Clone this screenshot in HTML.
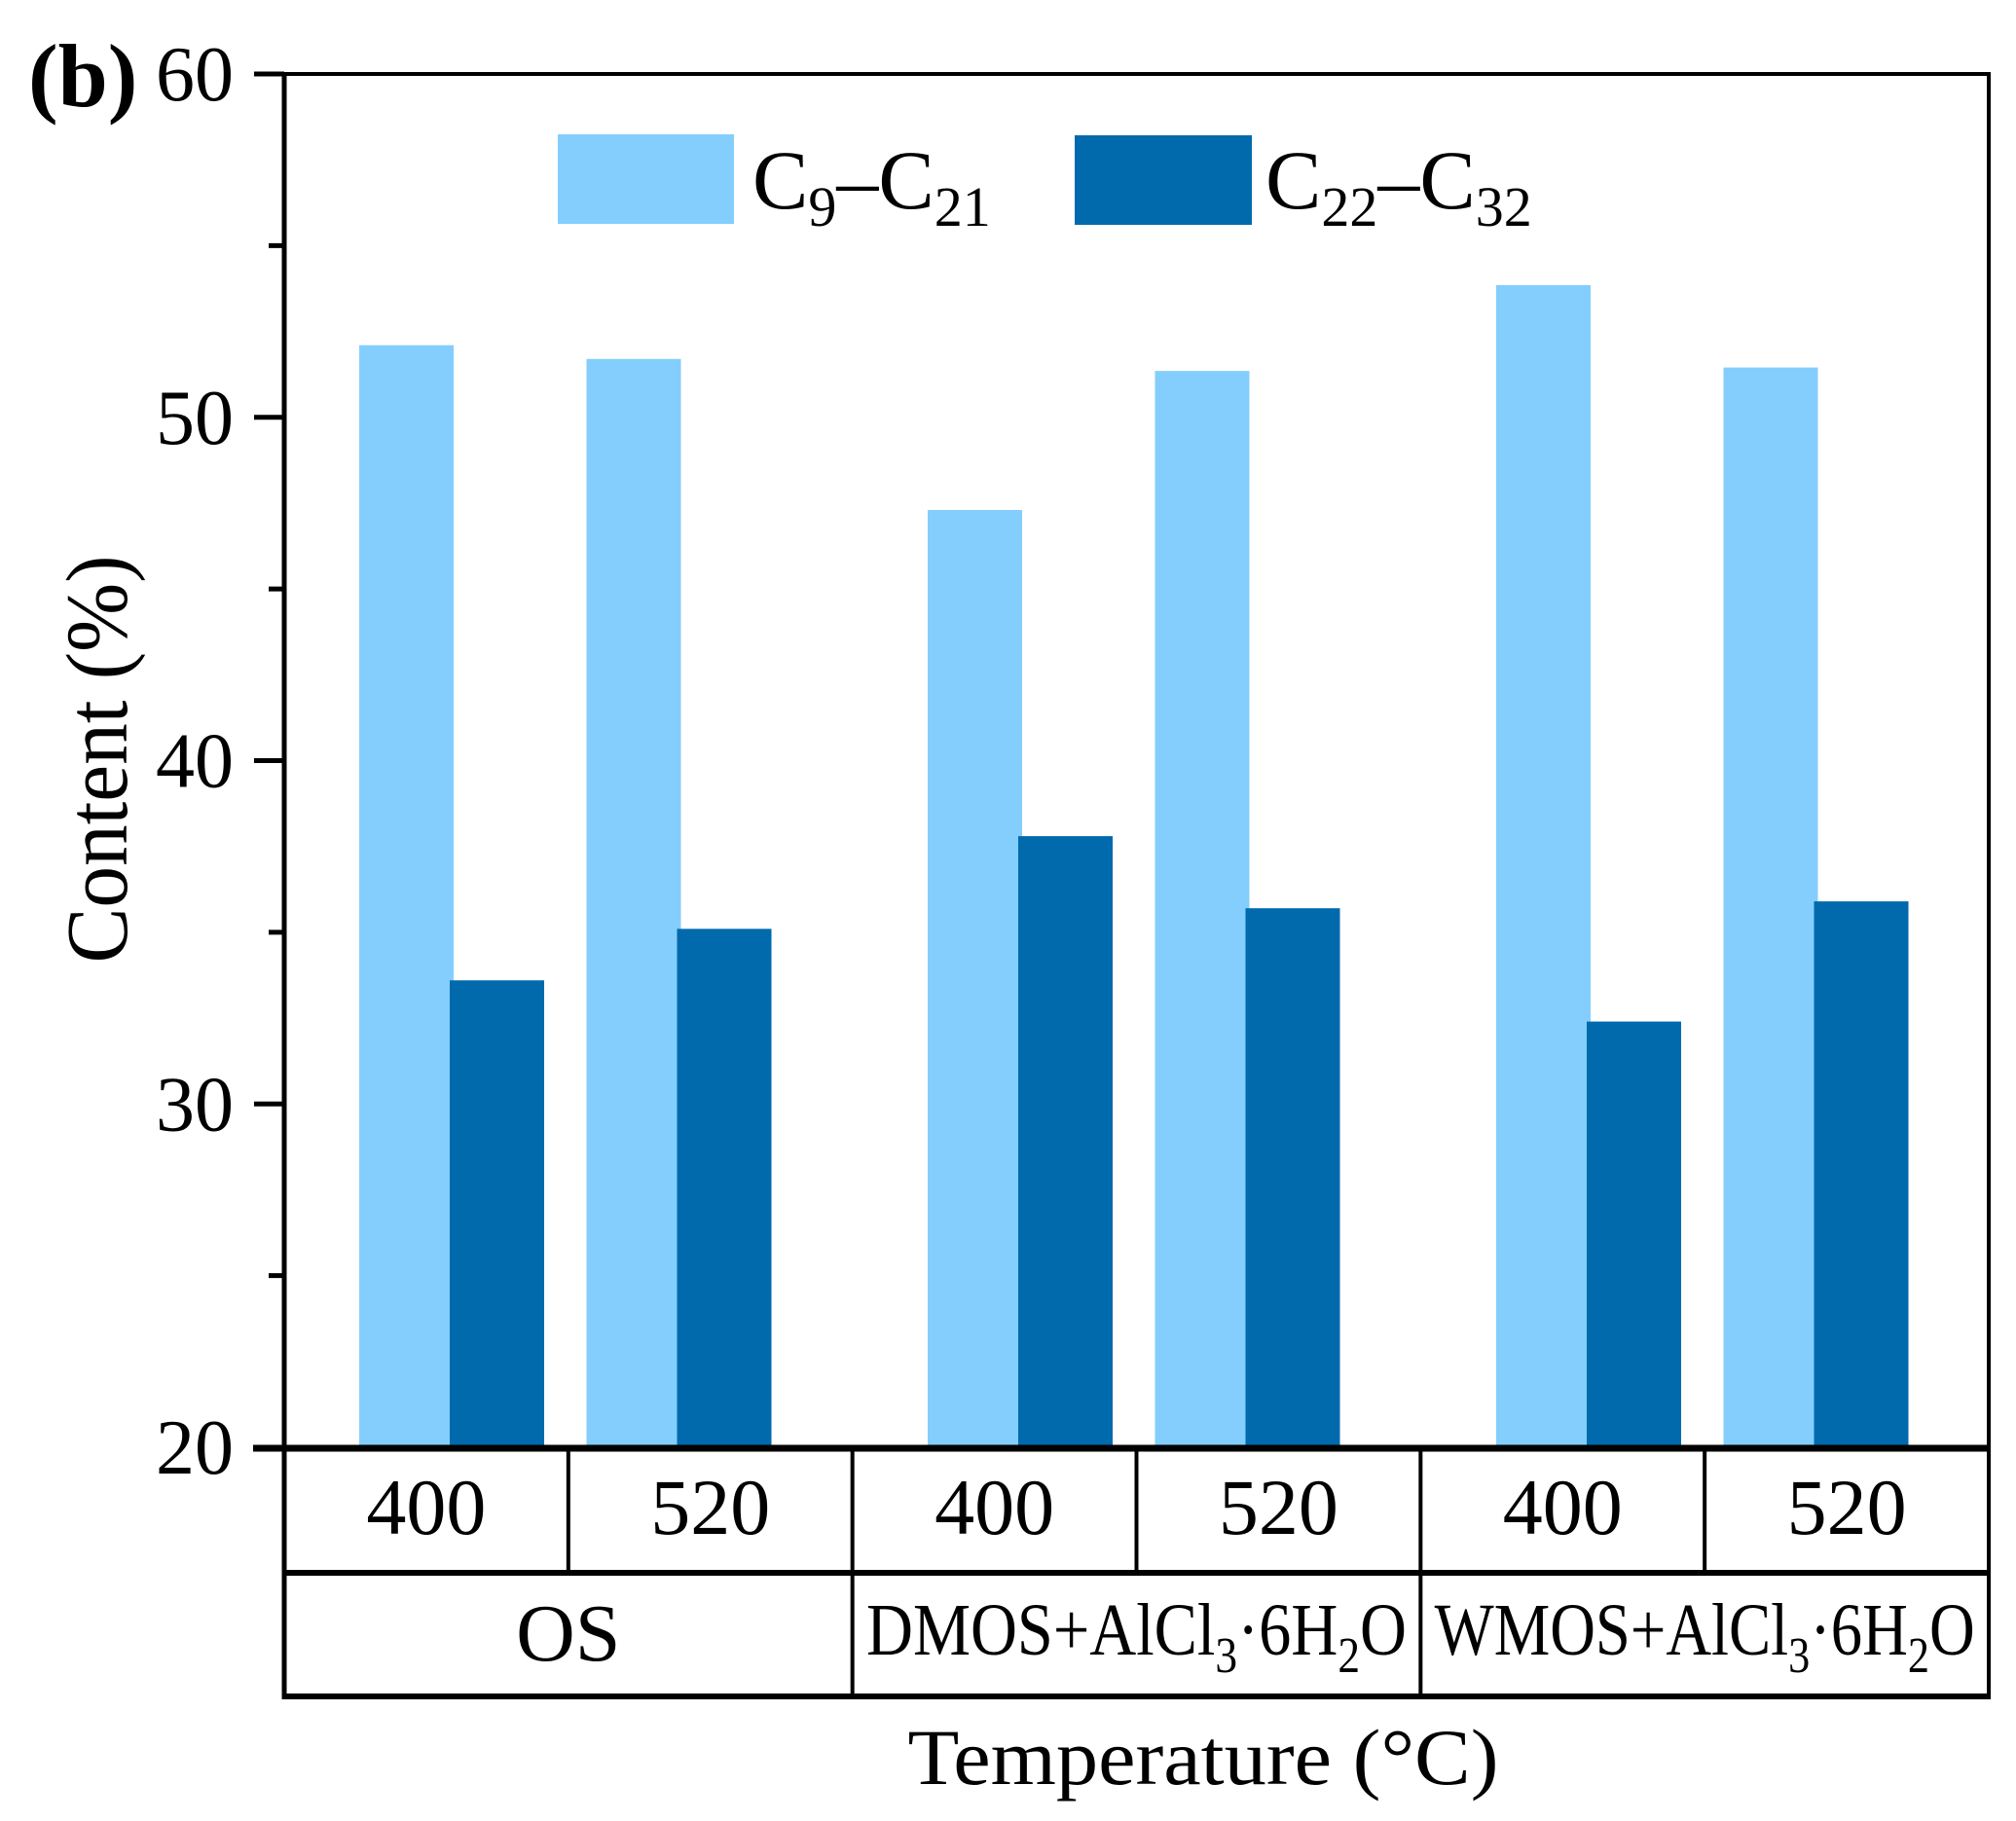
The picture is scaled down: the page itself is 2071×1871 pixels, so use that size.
<!DOCTYPE html>
<html><head><meta charset="utf-8"><style>
html,body{margin:0;padding:0;background:#fff;}
svg{display:block;font-family:"Liberation Serif",serif;}
</style></head><body>
<svg id="chart" width="2071" height="1871" viewBox="0 0 2071 1871">
<text x="29" y="109" font-size="92" font-weight="bold">(b)</text>
<g id="bars"></g>
<g id="yaxis"></g>
<g>
<rect x="573" y="138" width="181" height="92" fill="#83CEFD"/>
<text x="773" y="214" font-size="86">C<tspan font-size="58" dy="18">9</tspan><tspan dy="-18">–C</tspan><tspan font-size="58" dy="18">21</tspan></text>
<rect x="1104" y="139" width="182" height="92" fill="#006AAD"/>
<text x="1300" y="214" font-size="86">C<tspan font-size="58" dy="18">22</tspan><tspan dy="-18">–C</tspan><tspan font-size="58" dy="18">32</tspan></text>
</g>
<g id="frame">
<line x1="290" y1="76" x2="2045" y2="76" stroke="#000" stroke-width="4"/>
<line x1="292" y1="74" x2="292" y2="1746" stroke="#000" stroke-width="5"/>
<line x1="2043" y1="74" x2="2043" y2="1746" stroke="#000" stroke-width="4"/>
<line x1="260" y1="1488" x2="2045" y2="1488" stroke="#000" stroke-width="7"/>
<line x1="292" y1="1616" x2="2045" y2="1616" stroke="#000" stroke-width="6"/>
<line x1="292" y1="1743" x2="2045" y2="1743" stroke="#000" stroke-width="6"/>
</g>
<g id="xtable"></g>
<text x="1236" y="1833" font-size="82" text-anchor="middle" textLength="607" lengthAdjust="spacingAndGlyphs">Temperature (°C)</text>
<text transform="translate(130,780) rotate(-90)" font-size="90" text-anchor="middle" textLength="419" lengthAdjust="spacingAndGlyphs">Content (%)</text>
</svg>
<script>
const temps = ["400","520","400","520","400","520"];
const groups = ["OS","DMOS+AlCl3·6H2O","WMOS+AlCl3·6H2O"];
const lightValues = [52.1, 51.7, 47.3, 51.35, 53.85, 51.45];
const darkValues = [33.6, 35.1, 37.8, 35.7, 32.4, 35.9];
const yTicks = [20, 30, 40, 50, 60];
const yMinor = [25, 35, 45, 55];

const NS = "http://www.w3.org/2000/svg";
const L = 292, R = 2043, yTop = 76, yBot = 1487, vMin = 20, vMax = 60;
function y(v){ return yBot - (v - vMin) / (vMax - vMin) * (yBot - yTop); }
function xc(i){ return L + 172 + i * 233.5 + Math.floor(i / 2) * 117; }
function mk(tag, attrs, parent){ const e = document.createElementNS(NS, tag); for (const k in attrs) e.setAttribute(k, attrs[k]); parent.appendChild(e); return e; }

const bars = document.getElementById('bars');
const bw = 97;
lightValues.forEach((v, i) => {
  const r = mk('rect', {x: xc(i) - bw + 2, y: y(v), width: bw, height: yBot - y(v), fill: '#83CEFD'}, bars);
  
  
});
darkValues.forEach((v, i) => {
  const r = mk('rect', {x: xc(i) - 2, y: y(v), width: bw, height: yBot - y(v), fill: '#006AAD'}, bars);
  
  
});

const ya = document.getElementById('yaxis');
yTicks.forEach(v => {
  const t = mk('line', {x1: 261, x2: 292, y1: y(v), y2: y(v), stroke: '#000', 'stroke-width': 5}, ya);
  
  
  const lb = mk('text', {x: 240, y: y(v) + 27, 'font-size': 80, 'text-anchor': 'end'}, ya);
  lb.textContent = v;
  
  
});
yMinor.forEach(v => {
  const t = mk('line', {x1: 276, x2: 292, y1: y(v), y2: y(v), stroke: '#000', 'stroke-width': 5}, ya);
  
  
});

const xt = document.getElementById('xtable');
const cw = (R - L) / 6;
temps.forEach((t, i) => {
  if (i > 0) {
    const d = mk('line', {x1: L + i * cw, x2: L + i * cw, y1: 1488, y2: (i % 2 === 0) ? 1743 : 1616, stroke: '#000', 'stroke-width': 4}, xt);
    
    
  }
  const lb = mk('text', {x: L + (i + 0.5) * cw, y: 1576, 'font-size': 82, 'text-anchor': 'middle'}, xt);
  lb.textContent = t;
  
  
});
groups.forEach((g, gi) => {
  const cx = L + (gi + 0.5) * 2 * cw;
  const lb = mk('text', {x: cx, y: 1700, 'font-size': 76, 'text-anchor': 'middle'}, xt);
  
  
  if (g === 'OS') { lb.textContent = g; lb.setAttribute('font-size', 84); lb.setAttribute('y', 1706); }
  else {
    lb.setAttribute('textLength', 555);
    lb.setAttribute('lengthAdjust', 'spacingAndGlyphs');
    const m = g.match(/^(.*Cl)3(·6H)2(O)$/);
    const parts = [[m[1], 0], ['3', 1], [m[2], 0], ['2', 1], [m[3], 0]];
    let sub = false;
    parts.forEach(([s, isSub]) => {
      const sp = mk('tspan', {}, lb);
      if (isSub && !sub) { sp.setAttribute('dy', 18); sp.setAttribute('font-size', 52); sub = true; }
      else if (!isSub && sub) { sp.setAttribute('dy', -18); sub = false; }
      sp.textContent = s;
    });
  }
});
</script>
</body></html>
